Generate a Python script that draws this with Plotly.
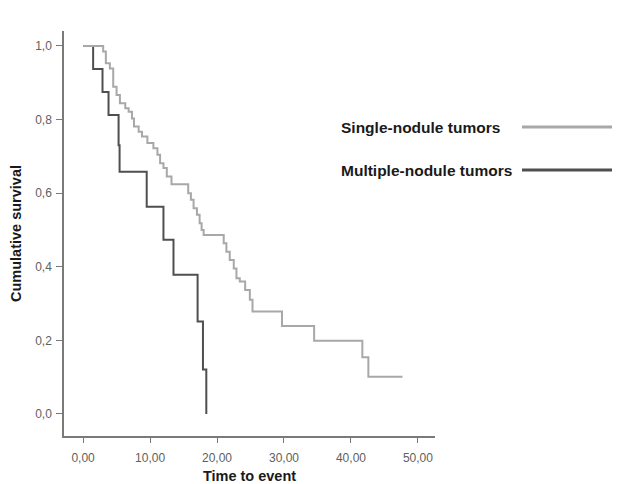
import plotly.graph_objects as go

# Kaplan-Meier step data
single_t = [0, 3.0, 3.4, 4.0, 4.5, 5.0, 5.5, 6.3, 6.8, 7.3, 7.6, 8.3, 8.8, 9.6, 10.5, 11.1, 11.5,
            12.0, 12.5, 13.2, 15.7, 16.1, 16.5, 17.0, 17.4, 17.7, 18.0, 21.0, 21.4, 21.9, 22.5,
            22.9, 23.4, 24.2, 24.9, 25.3, 29.7, 34.5, 41.7, 42.6, 47.7]
single_s = [1.0, 0.985, 0.953, 0.939, 0.889, 0.867, 0.844, 0.831, 0.821, 0.803, 0.781, 0.767,
            0.754, 0.736, 0.722, 0.704, 0.681, 0.668, 0.645, 0.624, 0.600, 0.582, 0.559, 0.541,
            0.518, 0.500, 0.486, 0.464, 0.441, 0.418, 0.395, 0.369, 0.360, 0.337, 0.310, 0.278,
            0.239, 0.199, 0.154, 0.101, 0.101]

multi_t = [0, 1.5, 2.9, 3.8, 5.3, 5.45, 9.5, 12.0, 13.5, 17.1, 17.9, 18.4]
multi_s = [1.0, 0.9375, 0.875, 0.8125, 0.73, 0.658, 0.563, 0.473, 0.378, 0.251, 0.121, 0.0]

x_ticks = [0, 10, 20, 30, 40, 50]
x_tick_labels = ["0,00", "10,00", "20,00", "30,00", "40,00", "50,00"]
y_ticks = [0, 0.2, 0.4, 0.6, 0.8, 1.0]
y_tick_labels = ["0,0", "0,2", "0,4", "0,6", "0,8", "1,0"]

series_names = ["Single-nodule tumors", "Multiple-nodule tumors"]
light_col = "#a8a8a8"
dark_col = "#4f4f4f"

fig = go.Figure()
fig.add_trace(go.Scatter(x=multi_t, y=multi_s, mode="lines", line=dict(shape="hv", color=dark_col, width=2),
                         name=series_names[1], showlegend=False))
fig.add_trace(go.Scatter(x=single_t, y=single_s, mode="lines", line=dict(shape="hv", color=light_col, width=2),
                         name=series_names[0], showlegend=False))

axis_col = "#7a7a7a"
tick_font = dict(family="Liberation Sans, Arial, sans-serif", size=12, color="#606060")
title_font = dict(family="Liberation Sans, Arial, sans-serif", size=14.5, color="#1a1a1a")

fig.update_xaxes(range=[-2.85, 52.55], tickvals=x_ticks, ticktext=x_tick_labels, showgrid=False,
                 zeroline=False, showline=True, linecolor=axis_col, linewidth=1.5,
                 ticks="outside", ticklen=5, tickcolor=axis_col, tickfont=tick_font,
                 ticklabelstandoff=5, automargin=False,
                 title=dict(text="<b>Time to event</b>", font=title_font, standoff=8))
fig.update_yaxes(range=[-0.06, 1.0406], tickvals=y_ticks, ticktext=y_tick_labels, showgrid=False,
                 zeroline=False, showline=True, linecolor=axis_col, linewidth=1.5,
                 ticks="outside", ticklen=6, tickcolor=axis_col, tickfont=tick_font,
                 ticklabelstandoff=2, automargin=False,
                 title=dict(text="<b>Cumulative survival</b>", font=title_font, standoff=10))

# custom legend (text left, line right)
leg_font = dict(family="Liberation Sans, Arial, sans-serif", size=15.5, color="#1a1a1a")
legend_rows = [(series_names[0], light_col, 127), (series_names[1], dark_col, 170)]
L, T, W, H = 64, 31, 371, 405
def px_to_paper(px, py):
    return (px - L) / W, (T + H - py) / H
annotations = []
shapes = []
for name, col, py in legend_rows:
    ax, ay = px_to_paper(339, py)
    annotations.append(dict(text="<b>" + name + "</b>", x=ax, y=ay, xref="paper", yref="paper",
                            xanchor="left", yanchor="middle", showarrow=False, font=leg_font))
    x0, y0 = px_to_paper(522, py)
    x1, _ = px_to_paper(612, py)
    shapes.append(dict(type="line", xref="paper", yref="paper", x0=x0, x1=x1, y0=y0, y1=y0,
                       line=dict(color=col, width=3)))

fig.update_layout(width=628, height=484, margin=dict(l=L, r=628 - L - W, t=T, b=484 - T - H),
                  paper_bgcolor="white", plot_bgcolor="white",
                  annotations=annotations, shapes=shapes, showlegend=False)

fig.write_html("out.html")
